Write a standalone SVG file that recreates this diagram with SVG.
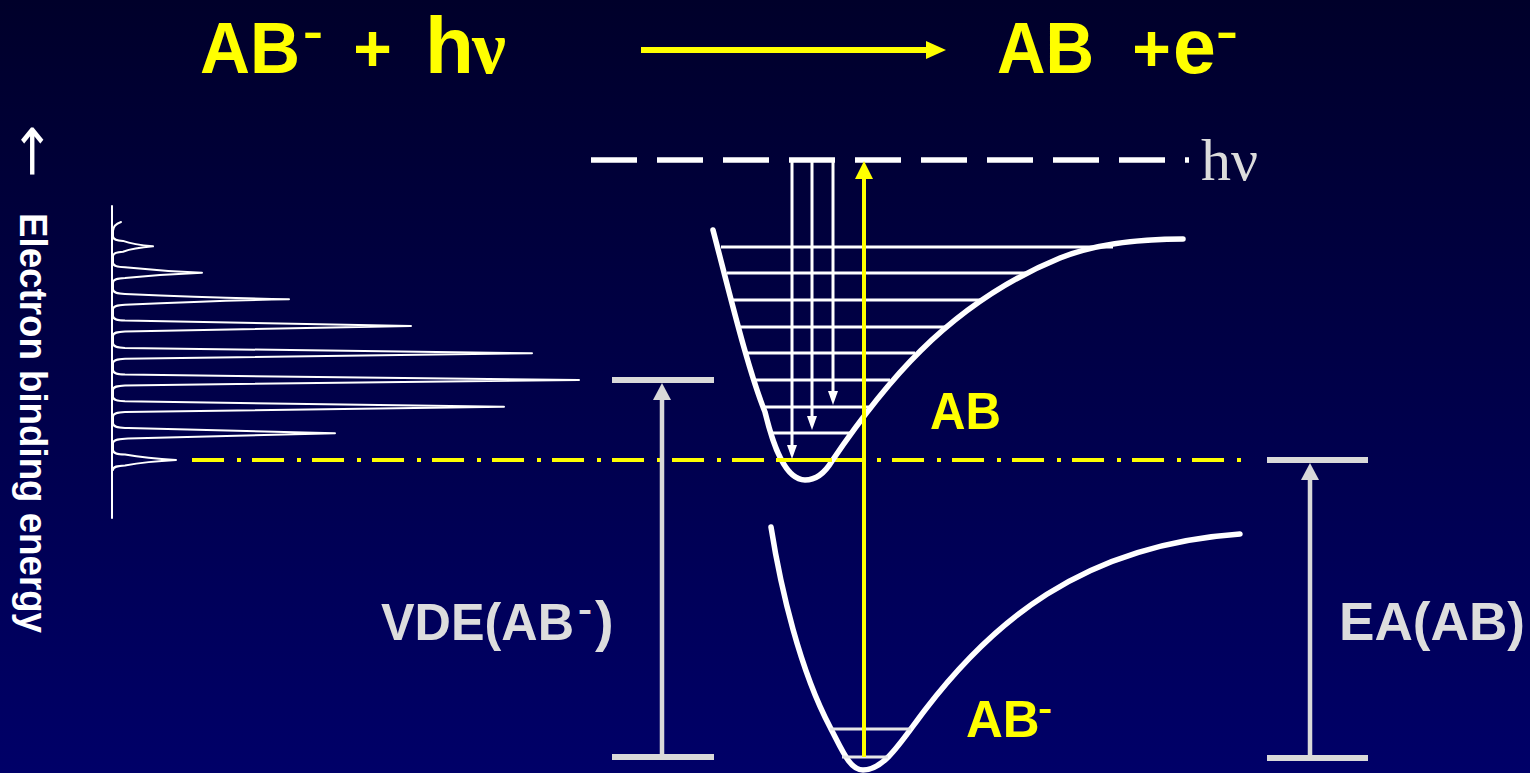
<svg xmlns="http://www.w3.org/2000/svg" width="1530" height="773" viewBox="0 0 1530 773">
<defs>
<linearGradient id="bg" x1="0" y1="0" x2="0" y2="1">
<stop offset="0" stop-color="#00002a"/>
<stop offset="1" stop-color="#000068"/>
</linearGradient>
<marker id="hw" markerUnits="userSpaceOnUse" markerWidth="14" markerHeight="10" refX="8" refY="5" orient="auto"><path d="M0,0L14,5L0,10z" fill="#ffffff"/></marker>
<marker id="hy" markerUnits="userSpaceOnUse" markerWidth="18" markerHeight="18" refX="10" refY="9" orient="auto"><path d="M0,0L18,9L0,18z" fill="#ffff00"/></marker>
<marker id="hg" markerUnits="userSpaceOnUse" markerWidth="17" markerHeight="18" refX="10" refY="9" orient="auto"><path d="M0,0L17,9L0,18z" fill="#d9d9d9"/></marker>
<marker id="ht" markerUnits="userSpaceOnUse" markerWidth="20" markerHeight="18" refX="2" refY="9" orient="auto"><path d="M0,0L20,9L0,18z" fill="#ffff00"/></marker>
</defs>
<style>
.c{font-family:"Liberation Sans",Arial,sans-serif;font-weight:bold}
.y{fill:#ffff00}
.g{fill:#dddddd}
.w{fill:#ffffff}
.pot{fill:none;stroke:#ffffff;stroke-width:5.5;stroke-linecap:round;stroke-linejoin:round}
.lvl{stroke:#ffffff;stroke-width:3}
.lvl2{stroke:#e6e6e6;stroke-width:3}
.bar{stroke:#d9d9d9;stroke-width:6}
.ga{stroke:#d9d9d9;stroke-width:4.5}
.dd{stroke:#ffff00;stroke-width:4;stroke-dasharray:32 13 4 11;fill:none}
</style>
<rect x="0" y="0" width="1530" height="773" fill="url(#bg)"/>

<g id="title">
<text class="c y" x="200" y="73" font-size="72" textLength="100" lengthAdjust="spacingAndGlyphs">AB</text>
<text class="c y" x="303" y="47" font-size="44" textLength="20" lengthAdjust="spacingAndGlyphs">-</text>
<text class="c y" x="372.5" y="71" font-size="66" text-anchor="middle">+</text>
<text class="c y" x="425" y="73" font-size="80">h</text>
<text class="y" x="472" y="73" font-family="Liberation Serif,serif" font-weight="bold" font-size="76">ν</text>
<text class="c y" x="997" y="73" font-size="72" textLength="97" lengthAdjust="spacingAndGlyphs">AB</text>
<text class="c y" x="1151.5" y="71" font-size="66" text-anchor="middle">+</text>
<text class="c y" x="1173" y="73" font-size="77">e</text>
<text class="c y" x="1216" y="47" font-size="44" textLength="22" lengthAdjust="spacingAndGlyphs">-</text>
</g>

<g id="axis-label">
<text class="w" transform="translate(34,151) rotate(90)" font-family="DejaVu Sans,sans-serif" font-size="52" textLength="54" lengthAdjust="spacingAndGlyphs" text-anchor="middle" dominant-baseline="central">←</text>
<text class="c w" transform="translate(20,213) rotate(90)" font-size="38" textLength="420" lengthAdjust="spacingAndGlyphs">Electron binding energy</text>
</g>

<g id="spectrum" fill="none" stroke="#ffffff" stroke-width="2" stroke-linejoin="round" stroke-linecap="round">
<line x1="112" y1="206" x2="112" y2="518"/>
<path d="M121,222 C115,224 113,227 113,231 L113,236.3 C113,239.8 117,240.5 123,240.9 C131,243.8 147,245.8 153,246.3 C147,246.8 131,248.8 123,251.7 C117,252.1 113,252.8 113,256.3
L113,262.7 C113,266.2 117,266.9 125,267.3 C153,270.2 188.7,272.2 202,272.7 C188.7,273.2 153,275.2 125,278.1 C117,278.5 113,279.2 113,282.7
L113,289.3 C113,292.8 117,293.5 125,293.9 C192,296.8 262.6,298.8 289,299.3 C262.6,299.8 192,301.8 125,304.7 C117,305.1 113,305.8 113,309.3
L113,316 C113,319.5 117,320.2 125,320.6 C247,323.5 366,325.5 411,326 C366,326.5 247,328.5 125,331.4 C117,331.8 113,332.5 113,336
L113,343.3 C113,346.8 117,347.5 125,347.9 C301.6,350.8 469,352.8 532,353.3 C469,353.8 301.6,355.8 125,358.7 C117,359.1 113,359.8 113,363.3
L113,370 C113,373.5 117,374.2 125,374.6 C322.7,377.5 509,379.5 579,380 C509,380.5 322.7,382.5 125,385.4 C117,385.8 113,386.5 113,390
L113,396.7 C113,400.2 117,400.9 125,401.3 C289,404.2 445,406.2 504,406.7 C445,407.2 289,409.2 125,412.1 C117,412.5 113,413.2 113,416.7
L113,423.3 C113,426.8 117,427.5 125,427.9 C213,430.8 301.7,432.8 335,433.3 C301.7,433.8 213,435.8 125,438.7 C117,439.1 113,439.8 113,443.3
L113,450 C113,453.5 117,454.2 125,454.6 C141.4,457.5 166.6,459.5 176,460 C166.6,460.5 141.4,462.5 125,465.4 C117,465.8 113,466.5 113,470"/>
</g>

<g id="hv-level">
<path d="M591,160 H1189" stroke="#ffffff" stroke-width="5.5" stroke-dasharray="46 20" fill="none"/>
<text x="1201" y="180" font-family="Liberation Serif,serif" font-size="60" fill="#dcdcdc">hν</text>
</g>

<g id="threshold-line">
<path class="dd" d="M192,460 H772"/>
<path class="dd" d="M832,460 H1245"/>
</g>

<g id="AB-potential">
<path class="pot" d="M713,230 C730,295 748,370 765,412 C773,445 785,480 805,480 C818,480 826,471 832,461 C880,390 945,305 1060,258 C1100,242 1150,239 1183,239"/>
<line class="lvl" x1="721" y1="247" x2="1113" y2="247"/>
<line class="lvl" x1="727" y1="273" x2="1029" y2="273"/>
<line class="lvl" x1="733" y1="300" x2="982" y2="300"/>
<line class="lvl" x1="740" y1="327" x2="947" y2="327"/>
<line class="lvl" x1="747" y1="353" x2="915" y2="353"/>
<line class="lvl" x1="754" y1="380" x2="890" y2="380"/>
<line class="lvl" x1="762" y1="407" x2="872" y2="407"/>
<line class="lvl" x1="771" y1="433" x2="852" y2="433"/>
<line x1="776" y1="460" x2="832" y2="460" stroke="#ffff00" stroke-width="4"/>
<text class="c y" x="930" y="429" font-size="52" textLength="71" lengthAdjust="spacingAndGlyphs">AB</text>
</g>

<g id="AB-anion-potential">
<path class="pot" d="M771,527 C781,590 800,670 830,727 C843,752 850,770 863,770 C885,770 902,740 925,710 C990,625 1080,545 1240,534"/>
<line class="lvl2" x1="830" y1="729" x2="911" y2="729"/>
<line class="lvl2" x1="842" y1="757" x2="888" y2="757"/>
<text class="c y" x="966" y="737" font-size="51">AB</text>
<text class="c y" x="1038" y="720" font-size="34" textLength="14" lengthAdjust="spacingAndGlyphs">-</text>
</g>

<g id="VDE">
<line class="bar" x1="612" y1="380" x2="714" y2="380"/>
<line class="bar" x1="612" y1="757" x2="714" y2="757"/>
<text class="c g" x="381" y="640" font-size="52" textLength="193" lengthAdjust="spacingAndGlyphs">VDE(AB</text>
<text class="c g" x="578" y="621" font-size="34" textLength="14" lengthAdjust="spacingAndGlyphs">-</text>
<text class="c g" x="595" y="640" font-size="56">)</text>
</g>

<g id="EA">
<line class="bar" x1="1267" y1="460" x2="1368" y2="460"/>
<line class="bar" x1="1267" y1="758" x2="1368" y2="758"/>
<text class="c g" x="1339" y="640" font-size="54" textLength="186" lengthAdjust="spacingAndGlyphs">EA(AB)</text>
</g>

<g id="connectors">
<line x1="641" y1="50" x2="928" y2="50" stroke="#ffff00" stroke-width="6" marker-end="url(#ht)"/>
<line x1="792" y1="160" x2="792" y2="453" stroke="#ffffff" stroke-width="3" marker-end="url(#hw)"/>
<line x1="812" y1="160" x2="812" y2="424" stroke="#ffffff" stroke-width="3" marker-end="url(#hw)"/>
<line x1="833" y1="160" x2="833" y2="399" stroke="#ffffff" stroke-width="3" marker-end="url(#hw)"/>
<line x1="864" y1="757" x2="864" y2="169" stroke="#ffff00" stroke-width="4" marker-end="url(#hy)"/>
<line class="ga" x1="662" y1="757" x2="662" y2="390" marker-end="url(#hg)"/>
<line class="ga" x1="1310" y1="758" x2="1310" y2="470" marker-end="url(#hg)"/>
</g>
</svg>
